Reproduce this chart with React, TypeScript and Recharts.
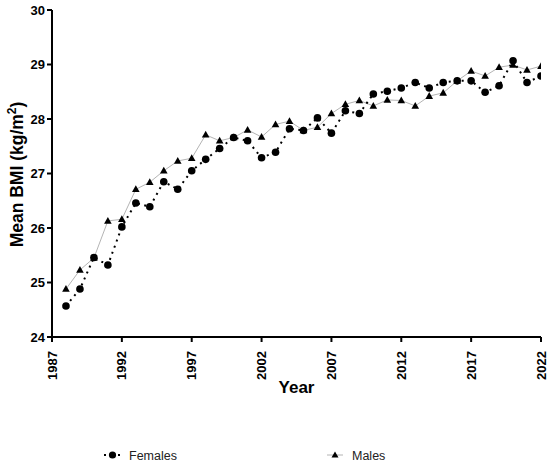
import { LineChart, Line, XAxis, YAxis, Legend } from "recharts";

// ── Theme ──────────────────────────────────────────────────────────────────────

const FONT = '"Liberation Sans", Arial, Helvetica, sans-serif';

const C = {
  axis:   "#000000",
  female: "#000000",
  maleLn: "#b4b4b4",
  marker: "#000000",
  legend: "#222222",
} as const;

// ── Data ──────────────────────────────────────────────────────────────────────

const YEARS = [
  1988, 1989, 1990, 1991, 1992, 1993, 1994, 1995, 1996, 1997, 1998, 1999,
  2000, 2001, 2002, 2003, 2004, 2005, 2006, 2007, 2008, 2009, 2010, 2011,
  2012, 2013, 2014, 2015, 2016, 2017, 2018, 2019, 2020, 2021, 2022,
];

const FEMALES = [
  24.57, 24.88, 25.46, 25.32, 26.02, 26.46, 26.39, 26.85, 26.71, 27.05, 27.26, 27.46,
  27.66, 27.6, 27.29, 27.39, 27.82, 27.79, 28.02, 27.74, 28.15, 28.1, 28.46, 28.51,
  28.57, 28.67, 28.57, 28.67, 28.7, 28.7, 28.49, 28.61, 29.07, 28.67, 28.79,
];

const MALES = [
  24.88, 25.23, 25.45, 26.13, 26.16, 26.71, 26.84, 27.05, 27.23, 27.28, 27.71, 27.6,
  27.66, 27.8, 27.67, 27.9, 27.96, 27.79, 27.85, 28.1, 28.27, 28.34, 28.24, 28.35,
  28.34, 28.24, 28.42, 28.48, 28.7, 28.88, 28.79, 28.95, 28.99, 28.9, 28.97,
];

const X_TICKS = [1987, 1992, 1997, 2002, 2007, 2012, 2017, 2022];
const Y_TICKS = [24, 25, 26, 27, 28, 29, 30];

const chartData = YEARS.map((year, i) => ({
  year,
  females: FEMALES[i],
  males:   MALES[i],
}));

// ── Markers ───────────────────────────────────────────────────────────────────

function CircleDot(props: any) {
  const { cx, cy, index } = props;
  if (cx == null || cy == null) return null;
  return <circle key={`f-${index}`} cx={cx} cy={cy} r={3.8} fill={C.marker} />;
}

function TriangleDot(props: any) {
  const { cx, cy, index } = props;
  if (cx == null || cy == null) return null;
  return (
    <path
      key={`m-${index}`}
      d={`M${cx},${cy - 4} L${cx + 3.8},${cy + 2.8} L${cx - 3.8},${cy + 2.8} Z`}
      fill={C.marker}
    />
  );
}

// ── Axis ticks & titles ───────────────────────────────────────────────────────

function YearTick(props: any) {
  const { x, y, payload } = props;
  return (
    <g transform={`translate(${x},${y})`}>
      <text
        transform="rotate(-90)"
        x={-7}
        y={0}
        dy={4.6}
        textAnchor="end"
        fontFamily={FONT}
        fontSize={13}
        fontWeight={700}
        fill={C.axis}
      >
        {payload.value}
      </text>
    </g>
  );
}

function XTitle(props: any) {
  const vb = props.viewBox ?? { x: 52, y: 337, width: 489 };
  return (
    <text
      x={vb.x + vb.width / 2}
      y={vb.y + 56}
      textAnchor="middle"
      fontFamily={FONT}
      fontSize={17}
      fontWeight={700}
      fill={C.axis}
    >
      Year
    </text>
  );
}

function YTitle(props: any) {
  const vb = props.viewBox ?? { y: 10, height: 327 };
  const cy = vb.y + vb.height / 2 + 1;
  return (
    <text
      transform={`translate(23,${cy}) rotate(-90)`}
      textAnchor="middle"
      fontFamily={FONT}
      fontSize={17.5}
      fontWeight={700}
      fill={C.axis}
    >
      Mean BMI (kg/m
      <tspan dy={-7} fontSize={12}>2</tspan>
      <tspan dy={7}>)</tspan>
    </text>
  );
}

// ── Legend ────────────────────────────────────────────────────────────────────

function LegendContent() {
  return (
    <svg width={550} height={20} style={{ display: "block" }}>
      {/* Females: dotted line with circle */}
      <rect x={104} y={10} width={2} height={2} fill={C.female} />
      <circle cx={112.5} cy={11} r={3.6} fill={C.marker} />
      <rect x={118} y={10} width={2} height={2} fill={C.female} />
      <text x={129} y={15.5} fontFamily={FONT} fontSize={12.5} fill={C.legend}>
        Females
      </text>

      {/* Males: grey line with triangle */}
      <line x1={327} y1={11} x2={343} y2={11} stroke={C.maleLn} strokeWidth={1} />
      <path d="M335,7.5 L338.5,13.5 L331.5,13.5 Z" fill={C.marker} />
      <text x={352} y={15.5} fontFamily={FONT} fontSize={12.5} fill={C.legend}>
        Males
      </text>
    </svg>
  );
}

// ── Component ─────────────────────────────────────────────────────────────────

export default function App() {
  return (
    <div style={{ position: "absolute", left: 0, top: 0, width: 550, height: 464, background: "#fff" }}>
      <LineChart
        width={550}
        height={464}
        data={chartData}
        margin={{ top: 10, right: 9, bottom: 0, left: 0 }}
      >
        <XAxis
          dataKey="year"
          type="number"
          domain={[1987, 2022]}
          ticks={X_TICKS}
          interval={0}
          allowDataOverflow
          height={107}
          tick={<YearTick />}
          tickSize={5}
          tickLine={{ stroke: C.axis, strokeWidth: 2 }}
          axisLine={{ stroke: C.axis, strokeWidth: 2 }}
          label={{ content: (p: any) => <XTitle {...p} /> }}
        />
        <YAxis
          type="number"
          domain={[24, 30]}
          ticks={Y_TICKS}
          interval={0}
          allowDataOverflow
          width={52}
          tickSize={5}
          tickMargin={2}
          tick={{ fontSize: 13, fontWeight: 700, fill: C.axis, fontFamily: FONT }}
          tickLine={{ stroke: C.axis, strokeWidth: 2 }}
          axisLine={{ stroke: C.axis, strokeWidth: 2 }}
          label={{ content: (p: any) => <YTitle {...p} /> }}
        />

        {/* Males — thin grey line, black triangles */}
        <Line
          type="linear"
          dataKey="males"
          stroke={C.maleLn}
          strokeWidth={1}
          dot={(p: any) => <TriangleDot key={`m-${p.index}`} {...p} />}
          activeDot={false}
          isAnimationActive={false}
        />

        {/* Females — black dotted line, black circles */}
        <Line
          type="linear"
          dataKey="females"
          stroke={C.female}
          strokeWidth={2}
          strokeDasharray="2 4.5"
          dot={(p: any) => <CircleDot key={`f-${p.index}`} {...p} />}
          activeDot={false}
          isAnimationActive={false}
        />

        <Legend verticalAlign="bottom" height={20} content={() => <LegendContent />} />
      </LineChart>
    </div>
  );
}
